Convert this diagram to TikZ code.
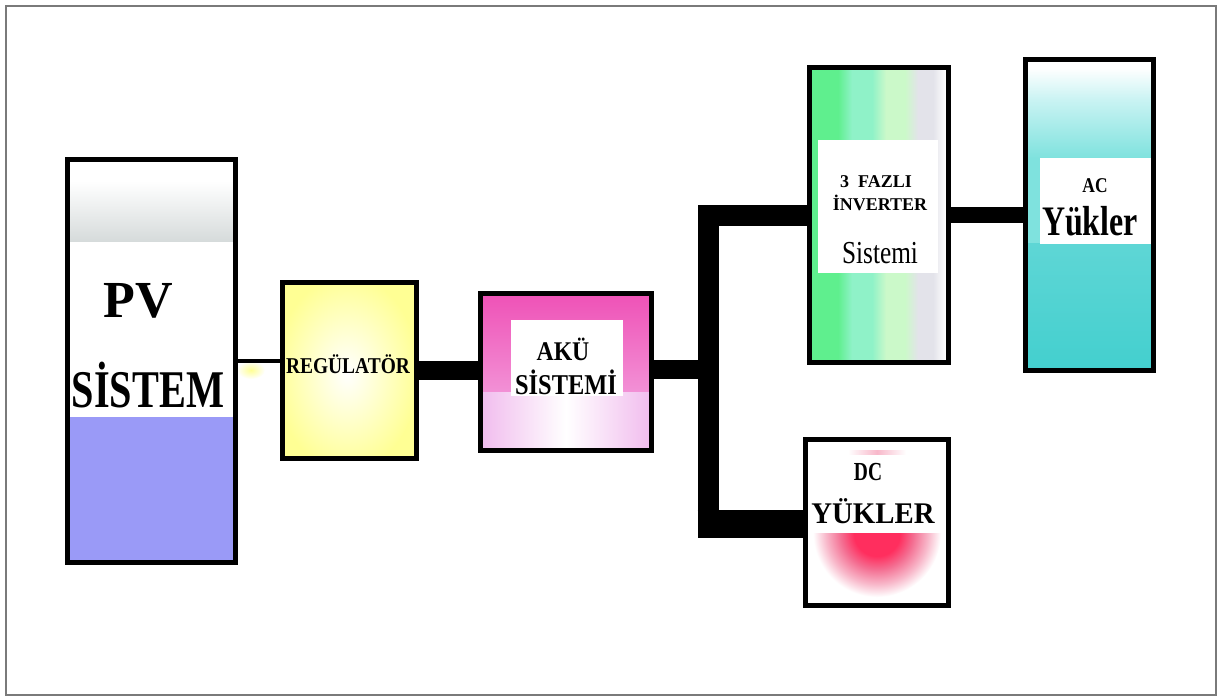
\documentclass[tikz,border=0pt]{standalone}
\usepackage{fontspec}
\setmainfont{Liberation Serif}

% colours of the block fills
\definecolor{framegray}{HTML}{7A7A7A}
\definecolor{pvgray}{HTML}{D6DBDB}
\definecolor{pvblue}{HTML}{9A9AF7}
\definecolor{regyellow}{HTML}{FFFF94}
\definecolor{akutop}{HTML}{EE4CB4}
\definecolor{akumid}{HTML}{F284CF}
\definecolor{akubot}{HTML}{F1BDEE}
\definecolor{gA}{HTML}{5FEF8E}
\definecolor{gB}{HTML}{8FF2C8}
\definecolor{gC}{HTML}{CBF9C9}
\definecolor{gD}{HTML}{E3E3EA}
\definecolor{aclight}{HTML}{C9F3F3}
\definecolor{acmid}{HTML}{7FE2DE}
\definecolor{acteal}{HTML}{42CFCE}
\definecolor{dcred}{HTML}{FF2E5E}
\definecolor{dcmid}{HTML}{F46C90}
\definecolor{dcpink}{HTML}{F8B8CA}

% red glow in the DC load block
\pgfdeclareradialshading{dcglow}{\pgfpoint{0bp}{0bp}}{%
  color(0bp)=(dcred); color(9bp)=(dcred); color(14bp)=(dcmid);
  color(20bp)=(dcpink); color(25bp)=(white); color(50bp)=(white)}

% narrowed label text
\newcommand\narrowed[2]{\scalebox{#1}[1]{#2}}

\pgfdeclarelayer{background}
\pgfsetlayers{background,main}

\begin{document}
\begin{tikzpicture}[x=1pt,y=-1pt,
  blockbox/.style={draw=black, line width=5pt, inner sep=0pt},
  label/.style={anchor=base, inner sep=0pt, font=\bfseries},
  thinlink/.style={draw=black, line width=4pt},
  thicklink/.style={draw=black, line width=19pt, line join=miter},
  inside/.style={insert path={([shift={(2.5,2.5)}]#1.north west) rectangle ([shift={(-2.5,-2.5)}]#1.south east)}}]

% canvas and outer frame
\begin{pgfonlayer}{background}
\fill[white] (0,0) rectangle (1230,697);
\end{pgfonlayer}
\useasboundingbox (0,0) rectangle (1230,697);
\draw[framegray, line width=2pt] (6,6) rectangle (1216,695);

% the blocks (outlines)
\node[blockbox, minimum width=168pt, minimum height=403pt] (pv) at (151.5,360.5) {};
\node[blockbox, minimum width=134pt, minimum height=176pt] (reg) at (349,370) {};
\node[blockbox, minimum width=171pt, minimum height=157pt] (aku) at (565.5,371.5) {};
\node[blockbox, minimum width=139pt, minimum height=295pt] (inv) at (878.5,214.5) {};
\node[blockbox, minimum width=128pt, minimum height=311pt] (ac) at (1089,214.5) {};
\node[blockbox, minimum width=143pt, minimum height=166pt] (dc) at (876.5,522) {};

% block fills, each clipped to the inside of its block
\begin{pgfonlayer}{background}
  % soft yellow spot between PV and regulator
  \shade[inner color=regyellow, outer color=white] (251,370) ellipse (14 and 9);

  % PV system
  \begin{scope}
    \clip[inside=pv];
    \shade[top color=white, bottom color=pvgray] (60,181) rectangle (245,241);
    \fill[pvblue] (60,417) rectangle (245,570);
  \end{scope}

  % regulator
  \begin{scope}
    \clip[inside=reg];
    \fill[regyellow] (reg.north west) rectangle (reg.south east);
    \shade[inner color=white, outer color=regyellow] (347,373) ellipse (72 and 98);
  \end{scope}

  % battery system
  \begin{scope}
    \clip[inside=aku];
    \shade[top color=akutop, bottom color=akubot, middle color=akumid] (470,285) rectangle (660,460);
    \shade[left color=akubot, right color=akubot, middle color=white] (482,392) rectangle (650,452);
    \fill[white] (511,320) rectangle (623,396);
  \end{scope}

  % three-phase inverter
  \begin{scope}
    \clip[inside=inv];
    \fill[gA] (800,60) rectangle (838,370);
    \shade[left color=gA, right color=gB] (838,60) rectangle (852,370);
    \fill[gB] (852,60) rectangle (872,370);
    \shade[left color=gB, right color=gC] (872,60) rectangle (886,370);
    \fill[gC] (886,60) rectangle (905,370);
    \shade[left color=gC, right color=gD] (905,60) rectangle (918,370);
    \fill[gD] (918,60) rectangle (933,370);
    \shade[left color=gD, right color=white] (933,60) rectangle (946,370);
    \fill[white] (818,140) rectangle (938,273);
  \end{scope}

  % AC loads
  \begin{scope}
    \clip[inside=ac];
    \shade[top color=white, bottom color=aclight] (1020,68) rectangle (1160,100);
    \shade[top color=aclight, bottom color=acmid] (1020,100) rectangle (1160,158);
    \fill[acmid] (1020,158) rectangle (1160,243);
    \shade[top color=acteal!85!white, bottom color=acteal] (1020,243) rectangle (1160,375);
    \fill[white] (1040,158) rectangle (1160,244);
  \end{scope}

  % DC loads
  \begin{scope}
    \clip[inside=dc];
    \shade[left color=white, right color=white, middle color=dcpink] (848,450) rectangle (906,454);
    \clip (800,533) rectangle (955,612);
    \shade[shading=dcglow] (877,533) circle (64);
  \end{scope}
\end{pgfonlayer}

% bus junction points
\coordinate (jt) at (708,215);
\coordinate (jm) at (708,369);
\coordinate (jb) at (708,524);

% connections
\draw[thinlink] (pv.east) -- (pv.east -| reg.west);
\draw[thicklink] (reg.east) -- (reg.east -| aku.west);
\draw[thicklink] (aku.east |- jm) -- (jm);
\draw[thicklink, line width=21pt] (inv.west |- jt) -- (jt) -- (jb);
\draw[thicklink, line width=28pt] ([xshift=-10.5pt]jb) -- (dc.west |- jb);
\draw[thicklink, line width=16pt] (inv.east |- jt) -- (ac.west |- jt);

% labels
\node[label, font=\bfseries\fontsize{52}{52}\selectfont] (pvA) at (138,317) {PV};
\node[label, font=\bfseries\fontsize{53}{53}\selectfont] (pvB) at (148,407) {\narrowed{0.76}{SİSTEM}};
\node[label, font=\bfseries\fontsize{22.6}{22.6}\selectfont] (regA) at (348,373) {\narrowed{0.86}{REGÜLATÖR}};
\node[label, font=\bfseries\fontsize{27}{27}\selectfont] (akuA) at (563,360) {\narrowed{0.88}{AKÜ}};
\node[label, font=\bfseries\fontsize{28.7}{28.7}\selectfont] (akuB) at (566,394) {\narrowed{0.85}{SİSTEMİ}};
\node[label, font=\bfseries\fontsize{18}{18}\selectfont] (invA) at (876,187) {3\ \ FAZLI};
\node[label, font=\bfseries\fontsize{18}{18}\selectfont] (invB) at (880,210) {İNVERTER};
\node[label, font=\fontsize{32}{32}\selectfont] (invC) at (880,263) {\narrowed{0.79}{Sistemi}};
\node[label, font=\bfseries\fontsize{21}{21}\selectfont] (acA) at (1095,192) {\narrowed{0.83}{AC}};
\node[label, font=\bfseries\fontsize{42}{42}\selectfont] (acB) at (1090,235) {\narrowed{0.76}{Yükler}};
\node[label, font=\bfseries\fontsize{26}{26}\selectfont] (dcA) at (868,480) {\narrowed{0.75}{DC}};
\node[label, font=\bfseries\fontsize{30}{30}\selectfont] (dcB) at (873,523) {\narrowed{0.96}{YÜKLER}};
\end{tikzpicture}
\end{document}
